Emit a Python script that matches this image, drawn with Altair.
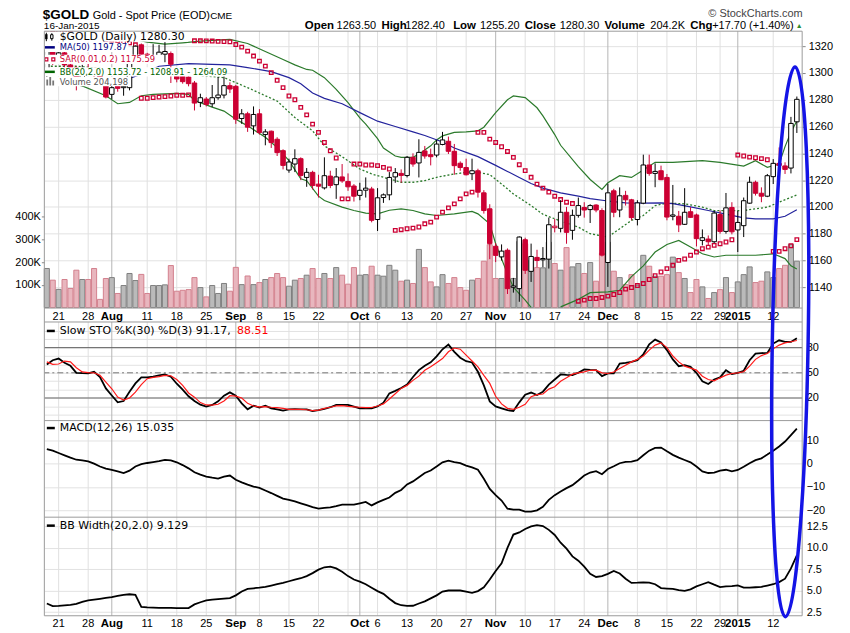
import altair as alt
import pandas as pd

# ---------------- data ----------------
OPEN = [1300, 1317, 1310, 1315, 1306, 1304, 1292, 1303, 1301, 1299,
        1292, 1284, 1291, 1289, 1289, 1309, 1321, 1314, 1309, 1309,
        1314, 1314.5, 1298, 1297.5, 1297, 1292.5, 1278, 1280.5, 1277, 1281.5,
        1283.5, 1290.5, 1290, 1266, 1269.5, 1260.5, 1269.5, 1254, 1256.5, 1250.5,
        1242, 1227.5, 1232, 1236, 1222, 1225.8, 1217, 1214.2, 1223, 1216.6,
        1222.4, 1219, 1215.6, 1208.6, 1212.5, 1213.4, 1190.6, 1207, 1209, 1222.4,
        1225, 1223.4, 1237, 1232.8, 1241.8, 1239, 1238.7, 1246.6, 1249, 1241.5,
        1232.6, 1229.4, 1224.8, 1227, 1210.5, 1198.6, 1170.6, 1162.7, 1167.6, 1140,
        1139, 1175.5, 1151.9, 1162.3, 1160.5, 1161, 1184.5, 1184, 1196, 1182.5,
        1193.7, 1199.6, 1198, 1201.4, 1197.3, 1158.5, 1212, 1197.7, 1208.6, 1205.3,
        1190.6, 1202.8, 1231.3, 1225, 1227, 1222, 1193, 1193, 1187, 1196.4,
        1194, 1175, 1176, 1174, 1194.3, 1181.7, 1199.6, 1182.8, 1186, 1202.8,
        1218.4, 1210.2, 1208, 1222.6, 1232.5, 1230.6, 1229, 1263.5]
HIGH = [1322, 1320, 1318, 1316, 1311, 1305, 1306, 1308, 1304, 1300,
        1296, 1295, 1293, 1292, 1312, 1320.5, 1322, 1315, 1321.5, 1321,
        1323, 1316, 1300, 1300, 1298, 1294, 1284.5, 1282, 1291, 1297,
        1297.5, 1293, 1291, 1273, 1271, 1275, 1273, 1258, 1257, 1252,
        1243, 1236, 1243, 1237, 1229, 1227, 1224, 1237, 1227, 1229,
        1232, 1225, 1217, 1218, 1222, 1215, 1214, 1210, 1226, 1229,
        1228, 1238, 1240, 1250.5, 1245.5, 1243.5, 1250, 1256, 1252.5, 1247,
        1234, 1236, 1236, 1228.5, 1212.5, 1202, 1173, 1172, 1169, 1147,
        1178, 1177, 1172.6, 1168, 1170, 1192, 1191, 1205, 1200, 1198,
        1207, 1203.5, 1202, 1202, 1199, 1217.3, 1213.5, 1214.6, 1212, 1206,
        1205, 1239, 1239, 1232.5, 1230.8, 1224.6, 1216.4, 1197, 1214, 1199.8,
        1195, 1183.2, 1178.7, 1197, 1197.3, 1210.4, 1203.5, 1197, 1207, 1222.6,
        1219.6, 1214.6, 1224.6, 1235.7, 1244.4, 1233.3, 1267.2, 1282.4]
LOW = [1296, 1306, 1307, 1304, 1302, 1287, 1290, 1299, 1295, 1292,
       1281, 1280.5, 1286, 1283, 1287, 1307, 1310, 1308, 1307, 1307,
       1308, 1292.5, 1293, 1292, 1290, 1272, 1274.5, 1275, 1274.5, 1280,
       1281, 1285, 1262, 1262, 1256, 1254, 1254, 1246, 1244, 1238,
       1228, 1225.5, 1226, 1220, 1215, 1213, 1207, 1213, 1214, 1206,
       1218, 1212, 1204, 1205, 1207, 1188.5, 1182, 1203, 1205, 1218,
       1218, 1222, 1230, 1222, 1236, 1231, 1237, 1246, 1239.5, 1224,
       1227, 1223.5, 1220, 1207, 1195, 1161, 1158.8, 1160, 1135, 1136,
       1129.2, 1150, 1144, 1155, 1155, 1154, 1181, 1181, 1172.5, 1175.5,
       1192, 1192, 1188, 1196, 1163, 1140.3, 1192.3, 1192.3, 1201, 1190,
       1186.2, 1202, 1223.3, 1214.7, 1220, 1190, 1190, 1181.2, 1186.5, 1192,
       1170.5, 1171.3, 1171.3, 1173, 1180, 1180, 1179.5, 1166.3, 1177.5, 1202.3,
       1208.5, 1203.5, 1207.3, 1217.1, 1227, 1224.6, 1225, 1255.2]
CLOSE = [1317, 1310, 1315, 1306, 1304, 1292, 1303, 1301, 1299, 1295,
         1282, 1289, 1288.5, 1290, 1308, 1320, 1314, 1310, 1311, 1315.5,
         1316, 1306.5, 1295.5, 1293.5, 1292, 1277.5, 1281.5, 1276.5, 1281.5, 1283.5,
         1290.5, 1288, 1265.5, 1269.5, 1259.5, 1269, 1255.5, 1256, 1248, 1240.5,
         1231, 1233.5, 1236, 1223.5, 1225.8, 1216, 1215.5, 1223.3, 1216, 1222.4,
         1219.4, 1215, 1208, 1212.4, 1214, 1190, 1206.8, 1209, 1222, 1225.6,
         1223.5, 1237, 1232, 1240.7, 1238, 1237.5, 1246.9, 1250, 1241.5, 1230.8,
         1229.4, 1224, 1227, 1211, 1197.3, 1172.6, 1163.8, 1167, 1139, 1141,
         1177.5, 1152.7, 1163, 1160, 1161.5, 1186.7, 1185.6, 1196, 1181, 1193.7,
         1201, 1197.7, 1201, 1197.7, 1164, 1210.5, 1196, 1208.3, 1205.3, 1192,
         1203, 1231.3, 1225, 1226.5, 1220.3, 1192.4, 1194, 1186.6, 1196, 1192.2,
         1176.3, 1177, 1174, 1195.4, 1181.7, 1199.3, 1181.4, 1188.4, 1204.6, 1218.4,
         1210.2, 1208, 1223.3, 1232.5, 1231, 1228, 1262.3, 1280.3]
VOLUME_K = [172, 120.6, 80, 123.5, 84, 164.5, 123.5, 123.5, 172, 36,
            128, 132, 62, 97, 150, 119, 146, 62, 97, 97,
            100, 185, 72, 76, 79, 132, 88, 47, 97, 62,
            106, 72, 177, 101, 139, 101, 110, 123.5, 132, 150,
            132, 94, 120.6, 128, 142.5, 171.8, 128, 150, 128, 176,
            142.5, 103, 176, 142.5, 145, 182, 142.5, 138, 186, 164.5,
            116, 120.6, 106, 256, 176, 113, 91, 145, 106, 132,
            88, 76, 120.6, 128, 204, 277, 128, 128, 252, 128,
            291, 281, 208, 176, 175, 288, 194, 164.5, 264, 179,
            194, 150, 198, 116, 240, 288, 160, 132, 101, 145,
            98, 230, 182, 138, 138, 145, 222, 154, 128, 66,
            123.5, 91, 40, 66, 79, 132, 66, 113, 145, 179,
            110, 116, 157, 132, 171.8, 186, 278, 204.2]

SAR = [1333, 1332, 1331, 1330, 1329.5, 1329, 1328, 1327, 1326.5, 1326,
       1325, 1324.5, 1324, 1323, 1322.5, 1321, 1281.1, 1281.1, 1281.6, 1282,
       1282.3, 1282.8, 1283.3, 1283.3, 1283.6, 1324, 1324, 1323.9, 1323.8, 1323.6,
       1323.4, 1323.2, 1321.2, 1319.3, 1316.3, 1312.6, 1308.8, 1305.1, 1300.2, 1294.5,
       1289, 1282.8, 1280, 1274.3, 1268.7, 1261.8, 1255.6, 1248.1, 1241.9, 1236.5,
       1206, 1206, 1232, 1232, 1231.3, 1231.3, 1230.8, 1229.5, 1228.3, 1182.5,
       1183, 1183.7, 1184.2, 1185, 1187.4, 1188.6, 1192.4, 1196.1, 1199.3, 1202.3,
       1206, 1209.7, 1211, 1255.6, 1255.6, 1250.6, 1248.1, 1244.9, 1241.4, 1237,
       1231.5, 1227.1, 1222.1, 1217, 1214, 1211, 1208, 1205.5, 1203.5, 1202.5,
       1129.6, 1130.4, 1131.6, 1131.6, 1132.4, 1133.4, 1134.6, 1136.1, 1138.6, 1139.8,
       1141.3, 1142.8, 1145.8, 1148.7, 1151.4, 1153.9, 1156.4, 1160.1, 1161.1, 1163.9,
       1166.3, 1168.8, 1170, 1171.3, 1172.5, 1173.8, 1175.5, 1238.7, 1238, 1237.2,
       1236.7, 1236, 1235.2, 1166.8, 1166.8, 1168.8, 1171, 1175.59]

MA50_X = [0, 5, 10, 14, 16, 19, 24, 28, 31, 34, 38, 41, 43, 45, 47, 50, 53, 56, 59, 62,
          64, 67, 69, 71, 73, 76, 78, 80, 82, 84, 87, 90, 92, 95, 98, 101, 104, 106, 109, 112,
          115, 118, 120, 123, 125, 127]
MA50 = [1291, 1293, 1294.5, 1296, 1299, 1305, 1307, 1306.4, 1306, 1304, 1301, 1296.5, 1292, 1285, 1281,
        1277, 1270.4, 1264, 1260, 1256, 1253.3, 1248.5, 1244, 1240.7, 1237.5, 1231, 1226.5, 1222, 1217.5,
        1214, 1210.5, 1208, 1206.2, 1204.4, 1203, 1202.8, 1203, 1202.4, 1200, 1197.3, 1194.6, 1191.8,
        1191.1, 1191.1, 1193, 1197.87]

BBU_X = [0, 5, 10, 14, 17, 20, 23, 26, 31, 34, 37, 40, 42, 44, 45, 47, 49, 51, 53, 54,
         56, 57, 59, 60, 62, 63, 65, 66, 67, 69, 71, 73, 74, 76, 78, 79, 81, 83, 84, 86,
         87, 90, 92, 94, 95, 97, 99, 101, 103, 106, 111, 114, 118, 120, 122, 124, 125, 126, 127]
BBU = [1334, 1332, 1329, 1326, 1323, 1321.5, 1322.5, 1323.7, 1325, 1322, 1316, 1310, 1306, 1302.6,
       1302, 1296.5, 1287.8, 1277.9, 1266.5, 1261.8, 1251, 1244, 1238, 1237, 1237, 1239.4, 1245.6,
       1250, 1253, 1255.6, 1256, 1256.8, 1259.5, 1270.4, 1280, 1282.8, 1281.6, 1274, 1268, 1254,
       1246, 1230, 1220.5, 1213, 1218, 1223.3, 1222, 1227.5, 1233.3, 1233.3, 1234.5, 1233.3, 1230.5,
       1234.5, 1229.5, 1232, 1245, 1256, 1264.09]

BBM_X = [0, 5, 10, 15, 20, 24, 27, 30, 34, 39, 42, 45, 47, 50, 53, 55, 57, 60, 62, 64,
         66, 69, 71, 73, 75, 77, 79, 82, 84, 86, 90, 92, 95, 97, 99, 101, 103, 105, 108, 111,
         113, 115, 118, 120, 122, 124, 127]
BBM = [1305, 1305, 1303, 1300, 1300, 1299, 1297.7, 1296.5, 1289, 1279, 1266.7, 1256.8, 1245.6,
       1237.5, 1228.3, 1224.6, 1222.1, 1218.4, 1218.4, 1219.6, 1222.1, 1224.6, 1225.8, 1225.8,
       1224.1, 1217.1, 1209.7, 1201, 1194.5, 1191.1, 1184.9, 1180, 1177.5, 1183.7, 1189.9, 1193.6,
       1201, 1202.8, 1202.3, 1199.8, 1197.3, 1197.3, 1197.3, 1198.6, 1199.8, 1203.5, 1208.91]

# lower band: it leaves the bottom of the panel between the two pieces
BBL_X = [0, 3, 6, 10, 12, 14, 16, 18, 22, 24, 25, 28, 30, 32, 34, 37, 39, 41, 43, 44,
         46, 47, 50, 52, 54, 56, 58, 60, 62, 64, 66, 69, 72, 73, 75, 76, 78, 79, 81, 82,
         87, 90, 92, 95, 97, 99, 101, 103, 105, 107, 109, 111, 113, 115, 118, 120, 123, 125, 126, 127]
BBL = [1293, 1293, 1290.3, 1283, 1277, 1278, 1283, 1284, 1284.8, 1284, 1279.5, 1274.5, 1271.5,
       1265.5, 1260.5, 1252, 1244.4, 1234.5, 1221, 1219.6, 1208, 1204.8, 1199.8, 1197.3, 1195.3,
       1194.8, 1197.5, 1198.6, 1197.3, 1194.8, 1193.6, 1194.8, 1196.6, 1194.8, 1187.4, 1172.5,
       1150, 1140, 1130.4, 1125,
       1125.4, 1131, 1136, 1136.6, 1137.8, 1148, 1156, 1166.3, 1172, 1175, 1170, 1165, 1162.6,
       1163.9, 1163.9, 1163.9, 1165, 1161.4, 1156, 1153.72]
BBL_SEG = [0] * 40 + [1] * 20

STO_K = [60, 65, 67, 62, 58.3, 50, 49.5, 49.2, 51.2, 45,
         31.4, 23, 14.8, 16.4, 27.5, 37.4, 44.5, 44.5, 45.5, 47,
         48, 45.3, 37, 30, 22, 16.4, 12, 9.7, 11.7, 16,
         22.7, 26.7, 22.7, 13.6, 6.5, 10.9, 8.5, 10.9, 7.7, 6.5,
         4.9, 6.5, 6.7, 6.5, 6.5, 4.5, 5.5, 6.9, 9, 11.7,
         11.7, 11.7, 9.7, 7.7, 7.7, 7.7, 10, 14.4, 25.5, 28.5,
         31.8, 36, 45, 53.2, 58.5, 62.5, 69.5, 78, 83.6, 75,
         68, 63.8, 62.3, 51.2, 35, 16, 10, 7.7, 5.5, 4.5,
         14.8, 24, 26.5, 23.5, 27.5, 36, 42, 48, 47.5, 47.2,
         50, 54, 53.5, 53.2, 46, 49.2, 49.2, 61, 61.9, 63,
         65, 72, 84, 89.5, 86, 77, 66, 57.9, 59.1, 57.1,
         50, 40, 36.6, 42.1, 44.5, 53.2, 48.4, 50, 52.4, 65,
         72.9, 73.5, 73.7, 84.8, 88.7, 86.8, 86.8, 91.17]
STO_D = [63, 60, 60.5, 64, 63, 56, 51, 50.2, 50, 47,
         39, 31, 21, 17.6, 20, 27, 36, 43, 44.5, 45.5,
         47, 46.5, 42, 35, 26, 21, 14.5, 11.7, 11.5, 12.5,
         16.4, 22.7, 22.3, 20, 13.6, 10.5, 9.5, 9.7, 9, 8.5,
         7.7, 6.5, 6.5, 6.5, 6, 4.9, 5.5, 7.7, 9, 10.5,
         10.8, 10, 9.5, 9, 8.5, 8.7, 10.5, 13, 18.8, 25,
         31.4, 35, 41, 46, 53, 57.1, 62, 67, 75, 79.5,
         78.1, 71, 64, 57.1, 47, 37.4, 22, 13, 7.7, 6.5,
         9, 12.5, 21.5, 24, 24.7, 30.6, 33.4, 40, 44, 48.4,
         50, 51.2, 53, 53.2, 50, 49.2, 51, 55, 59, 63,
         66, 70, 77, 83, 85.6, 80, 70, 63, 57.9, 55.5,
         53.2, 46, 42, 40.5, 44, 47.2, 49.2, 50, 51.2, 58,
         66, 70.5, 72.9, 78.5, 83, 85.6, 87, 88.51]
MACD = [6.2, 5.6, 4.6, 3.6, 2.6, 1.7, 1.4, 1.0, 0.0, -1.2,
        -2.1, -2.7, -3.3, -4.0, -3.0, -1.2, -0.2, 0.3, 0.7, 1.1,
        1.6, 1.4, 0.6, -0.6, -2.0, -3.7, -4.7, -5.5, -6.0, -6.4,
        -5.6, -5.1, -6.9, -8.0, -9.0, -9.8, -10.4, -11.5, -12.6, -13.8,
        -15.0, -15.5, -16.2, -17.0, -17.8, -18.6, -19.3, -19.0, -18.7, -18.2,
        -17.6, -17.6, -17.6, -17.0, -16.4, -17.9, -16.6, -15.5, -14.5, -12.5,
        -11.3, -8.9, -7.6, -5.8, -4.0, -2.9, -1.2, 0.6, 1.3, 0.7,
        0.2, -0.8, -1.6, -2.6, -6.5, -10.8, -13.5, -15.8, -19.3, -19.7,
        -19.7, -20.6, -20.6, -20.0, -18.5, -15.5, -13.5, -11.9, -10.5, -9.2,
        -7.2, -5.1, -3.8, -3.2, -4.5, -2.3, -1.1, 0.2, 0.8, 0.9,
        1.5, 3.6, 5.6, 6.8, 6.9, 5.3, 3.8, 2.6, 1.6, 0.6,
        -1.2, -3.3, -4.0, -3.8, -3.0, -2.6, -3.3, -2.7, -1.3, 0.2,
        1.5, 2.3, 3.9, 5.6, 7.4, 9.5, 12.3, 15.035]
BBW = [3.5, 3.2, 3.22, 3.28, 3.35, 3.45, 3.7, 3.86, 3.95, 4.05,
       4.15, 4.24, 4.38, 4.52, 4.58, 4.5, 3.1, 3.05, 3.02, 3.0,
       3.0, 2.98, 2.97, 2.97, 2.97, 3.4, 3.65, 3.86, 3.95, 4.02,
       4.08, 4.13, 4.45, 4.9, 5.2, 5.28, 5.35, 5.45, 5.6, 5.75,
       5.9, 6.1, 6.3, 6.45, 6.7, 7.05, 7.45, 7.73, 7.81, 7.6,
       7.2, 6.7, 6.3, 6.05, 5.75, 5.35, 4.95, 4.63, 4.05, 3.55,
       3.3, 3.22, 3.24, 3.5, 3.75, 4.1, 4.45, 4.9, 5.02, 5.02,
       5.02, 4.9, 4.75, 4.95, 5.4, 6.3, 7.3, 8.2, 10.0, 11.55,
       11.8, 12.2, 12.5, 12.66, 12.55, 12.1, 11.5, 10.6, 9.9, 9.0,
       8.5, 7.8, 6.96, 6.6, 6.7, 6.96, 7.3, 7.0, 6.4, 5.91,
       5.93, 5.97, 5.95, 5.75, 5.3, 5.25, 5.2, 5.05, 4.98, 5.15,
       5.5, 5.75, 6.0, 5.7, 5.42, 5.5, 5.52, 5.62, 5.35, 5.35,
       5.4, 5.45, 5.6, 5.75, 6.0, 6.4, 7.6, 9.129]

TICK_IDX = [2, 7, 11, 17, 22, 27, 32, 36, 41, 46, 53, 56, 61, 66, 71, 76, 81, 86, 91, 95,
            100, 105, 110, 114, 117, 123]
TICK_LBL = ["21", "28", "Aug", "11", "18", "25", "Sep", "8", "15", "22", "Oct", "6", "13", "20",
            "27", "Nov", "10", "17", "24", "Dec", "8", "15", "22", "29", "2015", "12"]
MONTH_IDX = [11, 32, 53, 76, 95, 117]
GRID_IDX = [2, 7, 11, 17, 22, 27, 32, 36, 41, 46, 51, 53, 56, 61, 66, 71, 76, 81, 86, 91, 95,
            100, 105, 110, 114, 117, 123]

# ---------------- layout constants ----------------
FONT = "Liberation Sans"
LFONT = "DejaVu Sans"
RED = "#cc0033"
GREEN = "#2b7a2b"
BLUE = "#23239c"
W, H = 761, 587
MAIN_BOT, STO_TOP, STO_BOT, MACD_BOT, BBW_BOT = 278, 292, 391, 488, 587
OX, OY = 44.5, 30.0


def px(x):
    return x - OX


def py(y):
    return y - OY


N = len(CLOSE)
IDX = list(range(N))

XS = alt.Scale(domain=[-0.42, 127.9], nice=False, zero=False)
PS = alt.Scale(domain=[1124.5, 1331.15], range=[MAIN_BOT, 0], nice=False, zero=False)
VS = alt.Scale(domain=[-2.2, 1217], range=[MAIN_BOT, 0], nice=False, zero=False)
SS = alt.Scale(domain=[-6.9, 110.5], range=[STO_BOT, STO_TOP], nice=False, zero=False)
MS = alt.Scale(domain=[-22.95, 18.5], range=[MACD_BOT, STO_BOT], nice=False, zero=False)
BS = alt.Scale(domain=[2.07, 13.58], range=[BBW_BOT, MACD_BOT], nice=False, zero=False)


def X(field):
    return alt.X(field + ":Q", scale=XS, axis=None)


def right_axis(values, **kw):
    return alt.Axis(orient="right", values=values, grid=True, gridColor="#e2e2e2", domain=False,
                    labelFont=FONT, labelFontSize=11, labelColor="black", title=None, **kw)


PRICE_AXIS = right_axis(list(range(1140, 1321, 20)), tickSize=3, tickColor="#888888", labelPadding=3,
                        format="d")
STO_AXIS = right_axis(list(range(0, 101, 10)), ticks=False, labelPadding=4,
                      labelExpr="(datum.value == 20 || datum.value == 50 || datum.value == 80) ? datum.label : ''")


def YP(field):
    return alt.Y(field + ":Q", scale=PS, axis=PRICE_AXIS)


def YS(field):
    return alt.Y(field + ":Q", scale=SS, axis=STO_AXIS)


# ---------------- candle table ----------------
rows = []
for i in range(N):
    prev = CLOSE[i - 1] if i > 0 else OPEN[i]
    down = CLOSE[i] < prev
    col = RED if down else "#000000"
    rows.append(dict(
        i=i, x0=i - 0.38, x1=i + 0.38, vx0=i - 0.43, vx1=i + 0.43,
        o=OPEN[i], h=HIGH[i], l=LOW[i], c=CLOSE[i], vol=VOLUME_K[i], v0=0,
        col=col, fill=("#ffffff" if CLOSE[i] > OPEN[i] else col),
        vfill=("#e8b6be" if down else "#bababa"),
        vstroke=("#d3808d" if down else "#7f7f7f")))
cdf = pd.DataFrame(rows)
base = alt.Chart(cdf)
one = pd.DataFrame({"a": [0]})

# ---------------- vertical grid ----------------
gdf = pd.DataFrame({"i": GRID_IDX,
                    "gc": ["#b4b4b4" if g in MONTH_IDX else "#e0e0e0" for g in GRID_IDX]})
vgrid_main = alt.Chart(gdf).mark_rule(strokeWidth=1).encode(
    x=X("i"), y=alt.value(0), y2=alt.value(MAIN_BOT), color=alt.Color("gc:N", scale=None))
vgrid_low = alt.Chart(gdf).mark_rule(strokeWidth=1).encode(
    x=X("i"), y=alt.value(STO_TOP), y2=alt.value(BBW_BOT), color=alt.Color("gc:N", scale=None))

# ---------------- volume ----------------
volume = base.mark_rect(strokeWidth=1).encode(
    x=X("vx0"), x2="vx1:Q",
    y=alt.Y("vol:Q", scale=VS, axis=alt.Axis(
        orient="left", values=[100, 200, 300, 400], labelExpr="datum.value + 'K'", grid=False,
        domain=False, tickSize=3, tickColor="#888888", labelPadding=1, labelFont=FONT,
        labelFontSize=11, labelColor="black", title=None)),
    y2="v0:Q",
    fill=alt.Fill("vfill:N", scale=None), stroke=alt.Stroke("vstroke:N", scale=None))

# ---------------- price overlays ----------------
bbu = alt.Chart(pd.DataFrame({"i": BBU_X, "v": BBU})).mark_line(
    color=GREEN, strokeWidth=1.2, clip=True).encode(x=X("i"), y=YP("v"))
bbl = alt.Chart(pd.DataFrame({"i": BBL_X, "v": BBL, "seg": BBL_SEG})).mark_line(
    color=GREEN, strokeWidth=1.2, clip=True).encode(x=X("i"), y=YP("v"), detail="seg:N")
bbm = alt.Chart(pd.DataFrame({"i": BBM_X, "v": BBM})).mark_line(
    color=GREEN, strokeWidth=1.3, strokeDash=[2, 2], clip=True).encode(x=X("i"), y=YP("v"))
ma = alt.Chart(pd.DataFrame({"i": MA50_X, "v": MA50})).mark_line(
    color=BLUE, strokeWidth=1.2, clip=True).encode(x=X("i"), y=YP("v"))
sar = alt.Chart(pd.DataFrame({"i": IDX, "v": SAR})).mark_square(
    filled=False, size=13, strokeWidth=1.3, color=RED, opacity=1, clip=True).encode(
    x=X("i"), y=YP("v"))
wick = base.mark_rule(strokeWidth=1, clip=True).encode(
    x=X("i"), y=YP("l"), y2="h:Q", color=alt.Color("col:N", scale=None))
body = base.mark_rect(strokeWidth=1, clip=True).encode(
    x=X("x0"), x2="x1:Q", y=YP("o"), y2="c:Q",
    fill=alt.Fill("fill:N", scale=None), stroke=alt.Stroke("col:N", scale=None))
price = alt.layer(bbu, bbl, bbm, ma, sar, wick, body)

# ---------------- slow stochastic ----------------
sdf = pd.DataFrame({"i": IDX, "k": STO_K, "d": STO_D})
sto_lv = alt.Chart(pd.DataFrame({"lv": [80, 20]})).mark_rule(color="#666666", strokeWidth=1).encode(
    y=YS("lv"))
sto_mid = alt.Chart(pd.DataFrame({"lv": [50]})).mark_rule(
    color="#777777", strokeWidth=1, strokeDash=[6, 3, 2, 3]).encode(y=YS("lv"))
sto_k = alt.Chart(sdf).mark_line(color="black", strokeWidth=1.8).encode(x=X("i"), y=YS("k"))
sto_d = alt.Chart(sdf).mark_line(color="#ff1a1a", strokeWidth=1.2).encode(x=X("i"), y=YS("d"))
sto = alt.layer(sto_lv, sto_mid, sto_k, sto_d)

# ---------------- MACD ----------------
macd = alt.Chart(pd.DataFrame({"i": IDX, "v": MACD})).mark_line(color="black", strokeWidth=1.8).encode(
    x=X("i"), y=alt.Y("v:Q", scale=MS, axis=right_axis([-20, -10, 0, 10], ticks=False, labelPadding=4)))

# ---------------- BB width ----------------
bbw = alt.Chart(pd.DataFrame({"i": IDX, "v": BBW})).mark_line(color="black", strokeWidth=1.8).encode(
    x=X("i"), y=alt.Y("v:Q", scale=BS, axis=right_axis(
        [2.5, 5, 7.5, 10, 12.5], ticks=False, labelPadding=4, format=".1f")))


# ---------------- decorations ----------------
def txt(s, x, y, size=11, color="black", weight="normal", font=FONT, align="left", baseline="middle"):
    return alt.Chart(one).mark_text(text=s, fontSize=size, color=color, fontWeight=weight, font=font,
                                    align=align, baseline=baseline).encode(
        x=alt.value(px(x)), y=alt.value(py(y)))


def box(x0, x1, y0, y1, fill="white", stroke="transparent", sw=0):
    return alt.Chart(one).mark_rect(fill=fill, stroke=stroke, strokeWidth=sw).encode(
        x=alt.value(px(x0)), x2=alt.value(px(x1)), y=alt.value(py(y0)), y2=alt.value(py(y1)))


def hline(x0, x1, y, color, sw):
    return alt.Chart(one).mark_rule(color=color, strokeWidth=sw).encode(
        x=alt.value(px(x0)), x2=alt.value(px(x1)), y=alt.value(py(y)))


def vline(x, y0, y1, color, sw):
    return alt.Chart(one).mark_rule(color=color, strokeWidth=sw).encode(
        x=alt.value(px(x)), y=alt.value(py(y0)), y2=alt.value(py(y1)))


deco = []
# legend rows in the price panel: (text, colour, centre y, box right edge, font size)
legend_rows = [
    ("$GOLD (Daily) 1280.30", "#000000", 35.6, 189, 10.8),
    ("MA(50) 1197.87", "#000080", 46.2, 129, 8.4),
    ("SAR(0.01,0.2) 1175.59", RED, 58.3, 164, 8.4),
    ("BB(20,2.0) 1153.72 - 1208.91 - 1264.09", "#006400", 70.8, 228, 8.4),
    ("Volume 204,198", "#555555", 80.6, 129, 8.4),
]
for s, c, yc, xe, fs in legend_rows:
    hh = 5.0 if fs > 10 else 4.6
    deco.append(box(45, xe, yc - hh, yc + hh))
for s, c, yc, xe, fs in legend_rows:
    deco.append(txt(s, 60, yc, size=fs, color=c, font=LFONT))
# legend icons
deco += [vline(46.5, 31.5, 40, "black", 1), box(45.3, 47.7, 33, 38, fill="black"),
         vline(52, 32, 39.5, "black", 1), box(50.8, 53.2, 33.5, 37.5, fill="white", stroke="black", sw=1),
         hline(45, 55, 46.2, "#000080", 2.5),
         hline(45, 55, 70.8, "#006400", 2.5),
         box(46.5, 48.3, 78.5, 84.5, fill="#777777"), box(49.5, 51.3, 76, 84.5, fill="#777777"),
         box(52.5, 54.3, 79.5, 84.5, fill="#777777")]
for sx in (46.5, 53.5):
    deco.append(alt.Chart(one).mark_square(filled=False, size=9, strokeWidth=1.2, color=RED, opacity=1).encode(
        x=alt.value(px(sx)), y=alt.value(py(58.3))))

# indicator panel headers
deco += [hline(47, 55, 331, "black", 2.5), txt("Slow STO %K(30) %D(3) 91.17,", 60, 331, font=LFONT),
         txt("88.51", 238, 331, color="#ff0000", font=LFONT),
         hline(47, 55, 428.5, "black", 2.5), txt("MACD(12,26) 15.035", 60, 428.5, font=LFONT),
         hline(47, 55, 526.5, "black", 2.5), txt("BB Width(20,2.0) 9.129", 60, 526.5, font=LFONT)]

# frames
deco += [box(OX, OX + W, OY, OY + H, fill="transparent", stroke="#9a9a9a", sw=1),
         hline(OX, OX + W, OY + MAIN_BOT, "#9a9a9a", 1),
         hline(OX, OX + W, OY + STO_TOP, "#9a9a9a", 1),
         hline(OX, OX + W, OY + STO_BOT, "#9a9a9a", 1),
         hline(OX, OX + W, OY + MACD_BOT, "#9a9a9a", 1)]

# date labels (through the x scale)
tdf = pd.DataFrame({"i": TICK_IDX, "lab": TICK_LBL, "month": [t in MONTH_IDX for t in TICK_IDX]})
for yv in (286.5, 595.0):
    deco.append(alt.Chart(tdf).transform_filter("!datum.month").mark_text(
        font=FONT, fontSize=11, color="black", baseline="middle").encode(
        x=X("i"), y=alt.value(yv), text="lab:N"))
    deco.append(alt.Chart(tdf).transform_filter("datum.month").mark_text(
        font=FONT, fontSize=11.5, fontWeight="bold", color="black", baseline="middle").encode(
        x=X("i"), y=alt.value(yv), text="lab:N"))

# page header
deco += [txt("$GOLD", 43, 17.5, size=13.5, weight="bold", baseline="alphabetic"),
         txt("Gold - Spot Price (EOD)", 93, 17.5, size=11, baseline="alphabetic"),
         txt("CME", 211, 17.5, size=10, baseline="alphabetic"),
         txt("16-Jan-2015", 44, 27.8, size=10, baseline="alphabetic"),
         txt("\u00a9 StockCharts.com", 806, 16, size=11, color="#444444", align="right",
             baseline="alphabetic")]
hdr = [("Open", 306, True), ("1263.50", 338, False), ("High", 383, True), ("1282.40", 407, False),
       ("Low", 455, True), ("1255.20", 482, False), ("Close", 527, True), ("1280.30", 562, False),
       ("Volume", 607, True), ("204.2K", 653, False), ("Chg", 693, True)]
for s, x, bold in hdr:
    deco.append(txt(s, x, 27.5, size=(11.5 if bold else 11), weight=("bold" if bold else "normal"),
                    baseline="alphabetic"))
deco.append(txt("+17.70 (+1.40%)", 797, 27.5, size=11, align="right", baseline="alphabetic"))
deco.append(txt("\u25b2", 799, 26.5, size=7, color="#2e8b2e", baseline="alphabetic"))

# hand-drawn blue ellipse on the right edge
ELLIPSE = ("M0,-1C0.036,-1,0.0652,-0.5523,0.0652,0C0.0652,0.5523,0.036,1,0,1"
           "C-0.036,1,-0.0652,0.5523,-0.0652,0C-0.0652,-0.5523,-0.036,-1,0,-1Z")
ellipse = alt.Chart(one).mark_point(shape=ELLIPSE, size=304704, filled=False, color="#1414e6",
                                    strokeWidth=3.5, opacity=1, angle=1).encode(
    x=alt.value(px(793.5)), y=alt.value(py(342)))

chart = alt.layer(vgrid_main, vgrid_low, volume, price, sto, macd, bbw, *deco, ellipse).resolve_scale(
    y="independent"
).properties(
    width=W, height=H,
    padding={"left": OX - 8, "top": OY - 8, "right": 40, "bottom": 16},
    autosize=alt.AutoSizeParams(type="none"),
    background="white",
).configure_view(stroke=None)

chart.save("out.html", embed_options={"renderer": "svg", "actions": False})
